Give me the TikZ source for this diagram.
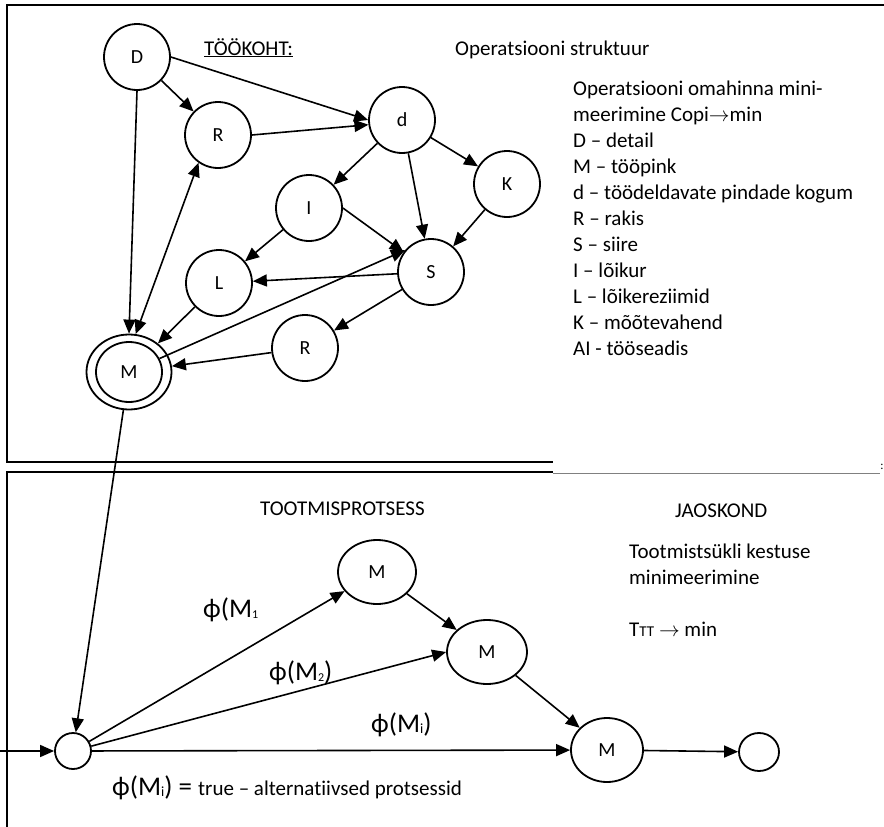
\documentclass[tikz,border=0pt]{standalone}
\usepackage{fontspec}
\setmainfont{Carlito}[Ligatures=NoCommon]
\usetikzlibrary{arrows.meta,shapes.geometric}

\begin{document}
\begin{tikzpicture}[x=1pt,y=-1pt,
  txt/.style={anchor=base west,inner sep=0pt,font=\fontsize{21}{26}\selectfont},
  big/.style={anchor=base west,inner sep=0pt,font=\fontsize{27}{30}\selectfont},
  vertex/.style={circle,draw,line width=1.8pt,minimum size=66pt,inner sep=0pt,font=\fontsize{20}{20}\selectfont},
  proc/.style={ellipse,draw,line width=1.8pt,inner sep=0pt,font=\fontsize{20}{20}\selectfont},
  link/.style={line width=1.6pt,-{Triangle[length=14pt,width=12pt]}},
  twolink/.style={line width=1.6pt,{Triangle[length=14pt,width=12pt]}-{Triangle[length=14pt,width=12pt]}},
  frame/.style={line width=1.8pt}]
\useasboundingbox (0,0) rectangle (884,827);

% frames of the two levels
\draw[frame] (884,5) -- (7,5) -- (7,462) -- (553,462);
\draw[frame] (553,472) -- (7,472) -- (7,827);
\draw[line width=1pt,gray] (553,473) -- (880,473);
\node[inner sep=0pt,font=\fontsize{12}{12}\selectfont] (cut) at (882,467) {:};

% workplace level
\node[txt] (wp) at (204,55) {\underline{TÖÖKOHT:}};
\node[txt] (ops) at (455,55) {Operatsiooni struktuur};
\foreach \t [count=\i] in {Operatsiooni omahinna mini-,
    meerimine Copi$\rightarrow$min,
    D – detail, M – tööpink, d – töödeldavate pindade kogum,
    R – rakis, S – siire, I – lõikur, L – lõikereziimid,
    K – mõõtevahend, AI - tööseadis}
  \node[txt,name=leg\i] at (573,{95+26*(\i-1)}) {\t};

\node[vertex] (D)  at (137,57)  {D};
\node[vertex] (R1) at (218,135) {R};
\node[vertex] (d)  at (402,120) {d};
\node[vertex] (I)  at (309,208) {I};
\node[vertex] (L)  at (219,283) {L};
\node[vertex] (S)  at (431,272) {S};
\node[vertex] (K)  at (507,184) {K};
\node[vertex] (R2) at (305,348) {R};
\node[proc,minimum width=85pt,minimum height=75pt] (Mo) at (129,372) {};
\node[proc,minimum width=66pt,minimum height=60pt] (Mi) at (129,372) {M};

\draw[link] (D) -- (R1);
\draw[link] (D.east) -- (d.west);
\draw[link] (R1.east) -- (d.188);
\draw[link] (D.south) -- (Mo.north);
\draw[twolink] (Mo.80) -- (R1.235);
\draw[link] (d) -- (I);
\draw[link] (d) -- (S);
\draw[link] (d) -- (K);
\draw[link] (I.east) -- (S);
\draw[link] (I) -- (L);
\draw[link] (K) -- (S);
\draw[link] (S) -- (L);
\draw[link] (Mi) -- (S.140);
\draw[link] (L) -- (Mo);
\draw[link] (S) -- (R2);
\draw[link] (R2) -- (Mo);

% shop level
\node[txt] (tp) at (260,515) {TOOTMISPROTSESS};
\node[txt] (jk) at (675,517) {JAOSKOND};
\node[txt] (goal1) at (629,558) {Tootmistsükli kestuse};
\node[txt] (goal2) at (629,584) {minimeerimine};
\node[txt] (goal3) at (629,636) {T{\fontsize{15}{15}\selectfont TT} $\rightarrow$ min};

\node[proc,circle,minimum size=36pt] (st) at (73,751) {};
\node[proc,minimum width=78pt,minimum height=64pt] (M1) at (377,572) {M};
\node[proc,minimum width=80pt,minimum height=64pt] (M2) at (487,652) {M};
\node[proc,minimum width=72pt,minimum height=64pt] (M3) at (607,750) {M};
\node[proc,minimum width=40pt,minimum height=38pt] (en) at (759,752) {};
\coordinate (in) at (0,751);

\draw[link] (Mo) -- (st);
\draw[link] (in) -- (st);
\draw[link] (st) -- (M1);
\draw[link] (st) -- (M2.west);
\draw[link] (st) -- (M3);
\draw[link] (M1) -- (M2);
\draw[link] (M2) -- (M3);
\draw[link] (M3) -- (en);

\node[big] (p1) at (203,617) {ϕ(M\raisebox{-1pt}{\fontsize{12}{12}\selectfont 1}};
\node[big] (p2) at (269,680) {ϕ(M\raisebox{-1pt}{\fontsize{12}{12}\selectfont 2})};
\node[big] (pi) at (371,732) {ϕ(M\raisebox{-1pt}{\fontsize{14}{14}\selectfont i})};
\node[big] (pt) at (112,795) {ϕ(M\raisebox{-1pt}{\fontsize{14}{14}\selectfont i}) = {\fontsize{21}{26}\selectfont true – alternatiivsed protsessid}};
\end{tikzpicture}
\end{document}
